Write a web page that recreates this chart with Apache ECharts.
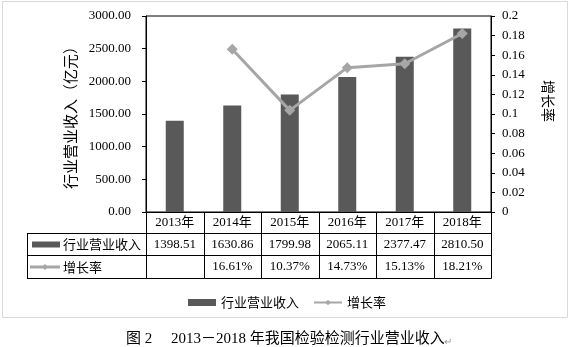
<!DOCTYPE html>
<html>
<head>
<meta charset="utf-8">
<script src="https://cdn.jsdelivr.net/npm/echarts@6/dist/echarts.min.js"></script>
<style>
  html, body { margin: 0; padding: 0; background: #fff; }
  #chart { width: 571px; height: 347px; }
</style>
</head>
<body>
<div id="chart"></div>
<script>
// Industry revenue (亿元) and year-on-year growth, 2013-2018
const years = ['2013年', '2014年', '2015年', '2016年', '2017年', '2018年'];
const revenue = [1398.51, 1630.86, 1799.98, 2065.11, 2377.47, 2810.50];
const growthPct = [null, 16.61, 10.37, 14.73, 15.13, 18.21];

const revenueName = '行业营业收入';
const growthName = '增长率';
const caption = '图 2　 2013－2018 年我国检验检测行业营业收入';

const FONT = "'Liberation Serif', 'Noto Sans CJK SC', serif";
const CJK = "'Noto Sans CJK SC', sans-serif";
const BAR = '#595959';
const LINE = '#a6a6a6';

// plot frame
const plot = { left: 146, top: 16, right: 491, bottom: 212 };
const W = 571, H = 347;

const chart = echarts.init(document.getElementById('chart'), null, { renderer: 'canvas' });

const option = {
  animation: false,
  backgroundColor: '#fff',
  grid: {
    left: plot.left, top: plot.top, right: W - plot.right, bottom: H - plot.bottom,
    show: true, borderColor: '#000', borderWidth: 1, backgroundColor: 'transparent'
  },
  legend: {
    left: 183, top: 291,
    itemGap: 14,
    itemWidth: 28, itemHeight: 7,
    textStyle: { fontFamily: CJK, fontSize: 13, color: '#000' },
    data: [
      { name: revenueName, icon: 'rect' },
      { name: growthName }
    ]
  },
  xAxis: {
    type: 'category',
    data: years,
    axisLine: { lineStyle: { color: '#000', width: 1 } },
    axisTick: { show: false },
    axisLabel: { margin: 4, fontFamily: FONT, fontSize: 13, color: '#000' }
  },
  yAxis: [
    {
      type: 'value', min: 0, max: 3000, interval: 500,
      name: '行业营业收入（亿元）',
      nameLocation: 'middle', nameRotate: 90, nameGap: 66,
      nameTextStyle: { fontFamily: CJK, fontSize: 15, color: '#000' },
      axisLine: { show: true, lineStyle: { color: '#000' } },
      axisTick: { show: true, length: 4, lineStyle: { color: '#000' } },
      axisLabel: {
        margin: 15, fontFamily: FONT, fontSize: 13, color: '#000',
        formatter: v => v.toFixed(2)
      },
      splitLine: { show: false }
    },
    {
      type: 'value', min: 0, max: 0.2, interval: 0.02,
      name: growthName,
      nameLocation: 'middle', nameRotate: -90, nameGap: 50,
      nameTextStyle: { fontFamily: CJK, fontSize: 14, color: '#000', padding: [0, 26, 0, 0] },
      axisLine: { show: true, lineStyle: { color: '#000' } },
      axisTick: { show: true, length: 4, lineStyle: { color: '#000' } },
      axisLabel: { margin: 11, fontFamily: FONT, fontSize: 13, color: '#000' },
      splitLine: { show: false }
    }
  ],
  series: [
    {
      name: revenueName,
      type: 'bar',
      yAxisIndex: 0,
      barWidth: 18,
      itemStyle: { color: BAR },
      data: revenue
    },
    {
      name: growthName,
      type: 'line',
      yAxisIndex: 1,
      symbol: 'diamond',
      symbolSize: 11,
      lineStyle: { color: LINE, width: 3 },
      itemStyle: { color: LINE },
      data: growthPct.map(v => v == null ? '-' : v / 100)
    }
  ]
};

chart.setOption(option);

// Data table under the plot, aligned with the category columns
function buildTable() {
  const g = [];
  const lineStyle = { stroke: '#000', lineWidth: 1 };
  const n = years.length;
  const colW = (plot.right - plot.left) / n;
  const tableLeft = 27;
  const rowY = [plot.bottom, 233, 255, 278];
  const px = v => Math.round(v) + 0.5;

  // horizontal rules
  [rowY[1], rowY[2], rowY[3]].forEach(y => {
    g.push({ type: 'line', shape: { x1: tableLeft, y1: px(y), x2: plot.right + 0.5, y2: px(y) }, style: lineStyle, silent: true });
  });
  // label column left edge
  g.push({ type: 'line', shape: { x1: px(tableLeft), y1: px(rowY[1]), x2: px(tableLeft), y2: px(rowY[3]) }, style: lineStyle, silent: true });
  // column separators
  for (let i = 0; i <= n; i++) {
    const x = px(plot.left + i * colW);
    g.push({ type: 'line', shape: { x1: x, y1: rowY[0], x2: x, y2: px(rowY[3]) }, style: lineStyle, silent: true });
  }

  const midRev = (rowY[1] + rowY[2]) / 2 + 0.5;
  const midGr = (rowY[2] + rowY[3]) / 2 + 0.5;

  // row labels with series keys
  g.push({ type: 'rect', shape: { x: 32, y: midRev - 3, width: 28, height: 6 }, style: { fill: BAR }, silent: true });
  g.push({ type: 'text', x: 63, y: midRev, style: { text: revenueName, font: "13px " + CJK, fill: '#000', verticalAlign: 'middle', align: 'left' }, silent: true });
  g.push({ type: 'line', shape: { x1: 30, y1: midGr, x2: 60, y2: midGr }, style: { stroke: LINE, lineWidth: 3 }, silent: true });
  g.push({ type: 'polygon', shape: { points: [[45, midGr - 3], [48, midGr], [45, midGr + 3], [42, midGr]] }, style: { fill: LINE }, silent: true });
  g.push({ type: 'text', x: 63, y: midGr, style: { text: growthName, font: "13px " + CJK, fill: '#000', verticalAlign: 'middle', align: 'left' }, silent: true });

  // cell values
  years.forEach((yr, i) => {
    const cx = chart.convertToPixel({ xAxisIndex: 0 }, yr);
    g.push({ type: 'text', x: cx, y: midRev, style: { text: revenue[i].toFixed(2), font: "13px " + FONT, fill: '#000', align: 'center', verticalAlign: 'middle' }, silent: true });
    if (growthPct[i] != null) {
      g.push({ type: 'text', x: cx, y: midGr, style: { text: growthPct[i].toFixed(2) + '%', font: "13px " + FONT, fill: '#000', align: 'center', verticalAlign: 'middle' }, silent: true });
    }
  });

  // outer frame of the chart area
  g.push({ type: 'rect', shape: { x: 2.5, y: 1.5, width: 565, height: 316 }, style: { fill: 'none', stroke: '#d9d9d9', lineWidth: 1 }, silent: true, z: -1 });

  // caption below the frame
  g.push({ type: 'text', x: 126, y: 339, style: { text: caption, font: "15px " + FONT, fill: '#000', verticalAlign: 'middle', align: 'left' }, silent: true });
  g.push({ type: 'text', x: 444, y: 341, style: { text: '↵', font: "10px " + CJK, fill: '#999', verticalAlign: 'middle', align: 'left' }, silent: true });

  chart.setOption({ graphic: { elements: g } });
}
buildTable();
</script>
</body>
</html>
